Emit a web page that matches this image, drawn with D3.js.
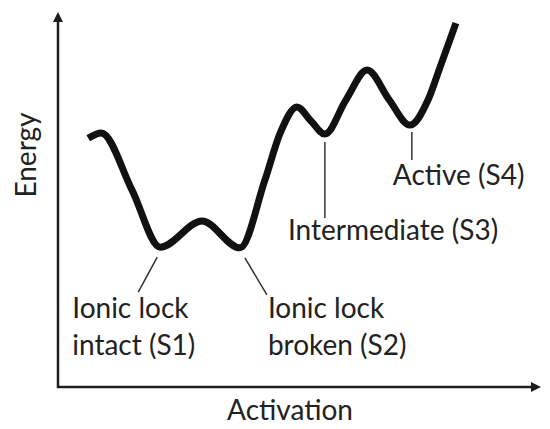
<!DOCTYPE html>
<html>
<head>
<meta charset="utf-8">
<script src="https://cdn.jsdelivr.net/npm/d3@7"></script>
<style>
  body { margin: 0; background: #fff; }
  text { font-family: Lato, "Noto Sans", sans-serif; fill: #222; }
</style>
</head>
<body>
<script>
// energy landscape, sketched (activation / energy in arbitrary units 0-100)
const activation = [6.3, 9.0, 15.4, 21.3, 30.0, 37.9, 43.1, 46.3, 49.8, 52.7, 55.6, 60.0, 64.4, 69.0, 73.3, 77.1, 79.6, 82.9];
const energy     = [66.9, 68.3, 53.0, 37.6, 44.6, 37.4, 55.6, 68.3, 75.3, 71.5, 68.0, 77.2, 85.2, 77.2, 70.4, 77.2, 86.0, 97.8];

// the four states and which point of the curve they sit on
const stateNames = [["Ionic lock", "intact (S1)"], ["Ionic lock", "broken (S2)"], ["Intermediate (S3)"], ["Active (S4)"]];
const stateIndex = [3, 5, 10, 14];

const xTitle = "Activation";
const yTitle = "Energy";

const width = 550, height = 429;

const svg = d3.select("body").append("svg")
    .attr("width", width)
    .attr("height", height);

const x = d3.scaleLinear().domain([0, 100]).range([58, 538]);
const y = d3.scaleLinear().domain([0, 100]).range([387, 15]);

// axes with arrow heads
const axisColor = "#1e1e1e";
svg.append("path")
    .attr("d", `M${x(0)},${y(100) + 6} V${y(0)} H${x(100) - 4}`)
    .attr("fill", "none")
    .attr("stroke", axisColor)
    .attr("stroke-width", 2.5);

svg.append("path")   // y arrow
    .attr("d", `M${x(0)},${y(100) - 3} l-5,10 h10 z`)
    .attr("fill", axisColor);
svg.append("path")   // x arrow
    .attr("d", `M${x(100) + 3},${y(0)} l-10,-5 v10 z`)
    .attr("fill", axisColor);

// the curve
const pts = activation.map((a, i) => [a, energy[i]]);
const line = d3.line()
    .x(d => x(d[0]))
    .y(d => y(d[1]))
    .curve(d3.curveMonotoneX);

svg.append("path")
    .datum(pts)
    .attr("d", line)
    .attr("fill", "none")
    .attr("stroke", "#111")
    .attr("stroke-width", 7);

// leader lines + labels, offsets relative to each state's minimum
const layout = [
    {l1: [-3, 10], l2: [-22, 45], tx: -88, ty: 71},
    {l1: [5, 10], l2: [27, 47], tx: 28, ty: 70},
    {l1: [0, 8], l2: [0, 84], tx: -37, ty: 106},
    {l1: [2, 7], l2: [2, 35], tx: -17, ty: 60}
];

const fs = 28;
stateIndex.forEach((idx, i) => {
    const px = x(activation[idx]), py = y(energy[idx]);
    const o = layout[i];
    svg.append("line")
        .attr("x1", px + o.l1[0]).attr("y1", py + o.l1[1])
        .attr("x2", px + o.l2[0]).attr("y2", py + o.l2[1])
        .attr("stroke", "#333")
        .attr("stroke-width", 1.5);
    const t = svg.append("text")
        .attr("x", px + o.tx)
        .attr("y", py + o.ty)
        .style("font-size", fs + "px");
    stateNames[i].forEach((s, j) => {
        t.append("tspan")
            .attr("x", px + o.tx)
            .attr("dy", j === 0 ? 0 : 37)
            .text(s);
    });
});

svg.append("text")
    .attr("x", 290)
    .attr("y", 420)
    .attr("text-anchor", "middle")
    .style("font-size", fs + "px")
    .text(xTitle);

svg.append("text")
    .attr("transform", "translate(36,155) rotate(-90)")
    .attr("text-anchor", "middle")
    .style("font-size", fs + "px")
    .text(yTitle);
</script>
</body>
</html>
